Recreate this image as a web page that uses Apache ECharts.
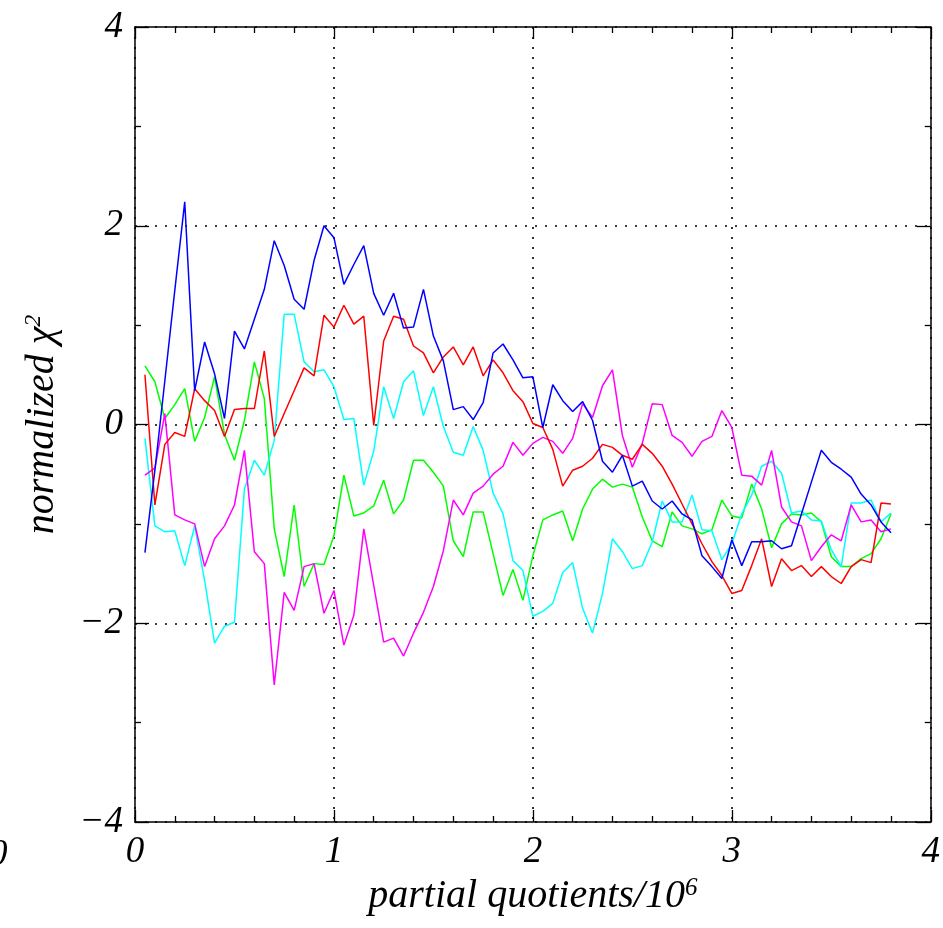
<!DOCTYPE html>
<html>
<head>
<meta charset="utf-8">
<script src="https://cdn.jsdelivr.net/npm/echarts@6/dist/echarts.min.js"></script>
<style>html,body{margin:0;padding:0;background:#fff}#c{width:943px;height:928px}</style>
</head>
<body>
<div id="c"></div>
<script>
const xs = [0.05,0.10,0.15,0.20,0.25,0.30,0.35,0.40,0.45,0.50,0.55,0.60,0.65,0.70,0.75,0.80,0.85,0.90,0.95,1.00,
1.05,1.10,1.15,1.20,1.25,1.30,1.35,1.40,1.45,1.50,1.55,1.60,1.65,1.70,1.75,1.80,1.85,1.90,1.95,2.00,
2.05,2.10,2.15,2.20,2.25,2.30,2.35,2.40,2.45,2.50,2.55,2.60,2.65,2.70,2.75,2.80,2.85,2.90,2.95,3.00,
3.05,3.10,3.15,3.20,3.25,3.30,3.35,3.40,3.45,3.50,3.55,3.60,3.65,3.70,3.75,3.80];

const blue = [-1.29,-0.46,0.44,1.35,2.24,0.34,0.83,0.51,0.06,0.94,
0.76,1.06,1.36,1.85,1.60,1.26,1.16,1.65,2.00,1.88,
1.41,1.61,1.80,1.32,1.10,1.32,0.97,0.98,1.36,0.89,
0.64,0.15,0.18,0.05,0.22,0.72,0.81,0.65,0.47,0.48,
-0.03,0.40,0.24,0.13,0.23,0.04,-0.37,-0.48,-0.31,-0.62,
-0.57,-0.77,-0.85,-0.77,-0.90,-0.96,-1.32,-1.43,-1.55,-1.16,
-1.42,-1.18,-1.18,-1.17,-1.25,-1.22,-0.90,-0.58,-0.26,-0.38,
-0.45,-0.53,-0.70,-0.81,-0.98,-1.09];

const red = [0.50,-0.81,-0.20,-0.08,-0.12,0.36,0.24,0.14,-0.12,0.15,
0.16,0.16,0.74,-0.12,0.11,0.34,0.57,0.49,1.10,0.98,
1.20,1.01,1.09,-0.01,0.84,1.09,1.06,0.79,0.72,0.52,
0.68,0.78,0.60,0.78,0.49,0.65,0.52,0.34,0.23,0.01,
-0.03,-0.25,-0.62,-0.46,-0.42,-0.34,-0.20,-0.23,-0.31,-0.35,
-0.20,-0.29,-0.42,-0.60,-0.80,-1.00,-1.20,-1.38,-1.52,-1.70,
-1.67,-1.42,-1.15,-1.63,-1.35,-1.47,-1.42,-1.53,-1.43,-1.53,
-1.60,-1.43,-1.36,-1.39,-0.79,-0.80];

const cyan = [-0.14,-1.02,-1.08,-1.07,-1.42,-1.02,-1.57,-2.20,-2.03,-1.99,
-0.65,-0.36,-0.51,-0.16,1.11,1.11,0.63,0.53,0.55,0.38,
0.05,0.06,-0.61,-0.27,0.38,0.06,0.43,0.54,0.09,0.38,
-0.02,-0.28,-0.31,-0.02,-0.26,-0.69,-0.90,-1.37,-1.47,-1.93,
-1.88,-1.80,-1.49,-1.39,-1.85,-2.10,-1.70,-1.15,-1.28,-1.45,
-1.42,-1.18,-0.77,-0.98,-0.98,-0.71,-1.06,-1.07,-1.36,-1.20,
-0.90,-0.71,-0.42,-0.37,-0.49,-0.89,-0.87,-0.96,-0.97,-1.26,
-1.43,-0.79,-0.79,-0.76,-0.98,-0.89];

const green = [0.59,0.43,0.06,0.20,0.36,-0.17,0.07,0.48,-0.10,-0.36,
0.04,0.63,0.26,-1.05,-1.53,-0.81,-1.63,-1.40,-1.41,-1.12,
-0.51,-0.92,-0.89,-0.82,-0.56,-0.90,-0.76,-0.36,-0.36,-0.48,
-0.62,-1.17,-1.33,-0.88,-0.88,-1.30,-1.72,-1.46,-1.77,-1.32,
-0.96,-0.91,-0.87,-1.17,-0.85,-0.65,-0.55,-0.63,-0.60,-0.63,
-0.93,-1.17,-1.23,-0.88,-1.02,-1.05,-1.10,-1.06,-0.76,-0.92,
-0.94,-0.60,-0.85,-1.24,-1.00,-0.90,-0.91,-0.89,-0.98,-1.33,
-1.43,-1.43,-1.35,-1.30,-1.15,-0.90];

const magenta = [-0.51,-0.44,0.11,-0.91,-0.96,-1.00,-1.43,-1.15,-1.02,-0.81,
-0.26,-1.28,-1.40,-2.62,-1.69,-1.87,-1.43,-1.40,-1.90,-1.67,
-2.22,-1.92,-1.05,-1.62,-2.19,-2.15,-2.33,-2.10,-1.89,-1.63,
-1.27,-0.76,-0.91,-0.69,-0.62,-0.50,-0.42,-0.18,-0.31,-0.19,
-0.13,-0.17,-0.29,-0.14,0.21,0.07,0.39,0.55,-0.11,-0.43,
-0.19,0.21,0.20,-0.11,-0.18,-0.32,-0.17,-0.12,0.14,-0.03,
-0.51,-0.52,-0.61,-0.26,-0.83,-0.98,-1.02,-1.37,-1.23,-1.11,
-1.17,-0.81,-0.98,-0.96,-1.08,-1.05];

const xTickLabels = {0:'0',1:'1',2:'2',3:'3',4:'4'};
const yTickLabels = {'-4':'\u22124','-2':'\u22122','0':'0','2':'2','4':'4'};

const FONT = 'Liberation Serif';
const chart = echarts.init(document.getElementById('c'));

function pairs(arr){ return arr.map((v,i)=>[xs[i], v]); }
function mkSeries(name, color, arr){
  return {name, type:'line', data:pairs(arr), xAxisIndex:0, yAxisIndex:0,
    showSymbol:false, symbol:'none', animation:false,
    lineStyle:{color, width:1.5}, itemStyle:{color}};
}
const tickStyle = {color:'#000', width:1.3};
const gridDots = {color:'#000', type:[2,8], width:1.6};

chart.setOption({
  backgroundColor:'#fff',
  animation:false,
  grid:{left:135, top:27, right:12, bottom:106, containLabel:false},
  xAxis:[{
    type:'value', min:0, max:4, interval:1, position:'bottom',
    axisLine:{show:true, onZero:false, lineStyle:{color:'#000', width:1.5}},
    axisTick:{show:true, inside:true, length:12, lineStyle:tickStyle},
    minorTick:{show:true, splitNumber:5, length:6, lineStyle:tickStyle},
    splitLine:{show:true, lineStyle:gridDots},
    axisLabel:{color:'#000', fontFamily:FONT, fontStyle:'italic', fontSize:37, margin:12,
      formatter:v=>xTickLabels[v] ?? ''},
    name:'partial quotients/10{sup|6}', nameLocation:'middle', nameGap:27,
    nameTextStyle:{color:'#000', fontFamily:FONT, fontStyle:'italic', fontSize:40,
      rich:{sup:{fontFamily:FONT, fontStyle:'italic', fontSize:25, verticalAlign:'top', padding:[0,0,16,0]}}}
  },{
    type:'value', min:0, max:4, interval:1, position:'top',
    axisLine:{show:true, onZero:false, lineStyle:{color:'#000', width:1.5}},
    axisTick:{show:true, inside:true, length:12, lineStyle:tickStyle},
    minorTick:{show:true, splitNumber:5, length:6, lineStyle:tickStyle},
    splitLine:{show:false}, axisLabel:{show:false}
  }],
  yAxis:[{
    type:'value', min:-4, max:4, interval:2, position:'left',
    axisLine:{show:true, onZero:false, lineStyle:{color:'#000', width:1.5}},
    axisTick:{show:true, inside:true, length:14, lineStyle:tickStyle},
    minorTick:{show:true, splitNumber:2, length:6, lineStyle:tickStyle},
    splitLine:{show:true, lineStyle:gridDots},
    axisLabel:{color:'#000', fontFamily:FONT, fontStyle:'italic', fontSize:37, margin:12,
      formatter:v=>yTickLabels[String(v)] ?? ''},
    name:'normalized \u03c7{sup|2}', nameLocation:'middle', nameGap:73, nameRotate:90,
    nameTextStyle:{color:'#000', fontFamily:FONT, fontStyle:'italic', fontSize:40,
      rich:{sup:{fontFamily:FONT, fontStyle:'italic', fontSize:24, verticalAlign:'top', padding:[0,0,16,0]}}}
  },{
    type:'value', min:-4, max:4, interval:2, position:'right',
    axisLine:{show:true, onZero:false, lineStyle:{color:'#000', width:1.5}},
    axisTick:{show:true, inside:true, length:14, lineStyle:tickStyle},
    minorTick:{show:true, splitNumber:2, length:6, lineStyle:tickStyle},
    splitLine:{show:false}, axisLabel:{show:false}
  }],
  graphic:[{type:'text', left:-11, top:837, style:{text:'0', fill:'#000', font:'italic 37px "Liberation Serif"'}}],
  series:[
    mkSeries('green','#00ff00',green),
    mkSeries('cyan','#00ffff',cyan),
    mkSeries('magenta','#ff00ff',magenta),
    mkSeries('red','#ff0000',red),
    mkSeries('blue','#0000ff',blue)
  ]
});
</script>
</body>
</html>
